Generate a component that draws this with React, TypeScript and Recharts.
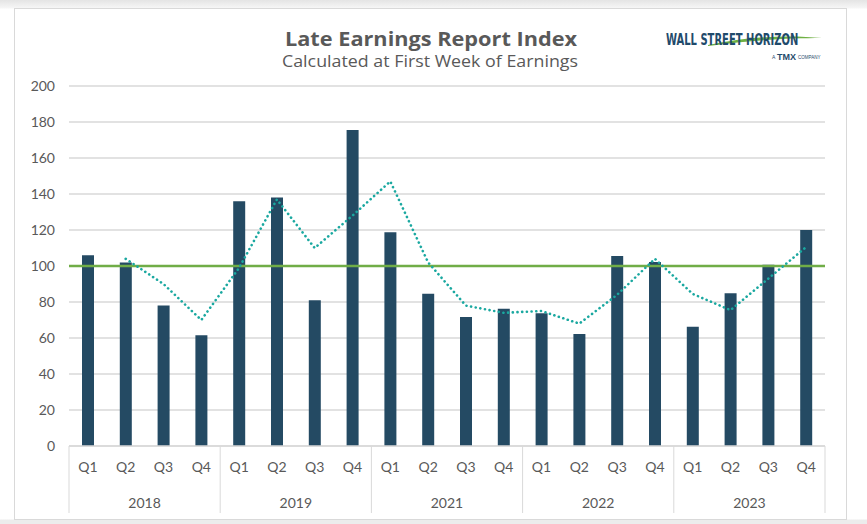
import React from "react";
import {
  Bar,
  CartesianGrid,
  ComposedChart,
  Line,
  ReferenceLine,
  XAxis,
  YAxis,
} from "recharts";

const YEARS = ["2018", "2019", "2021", "2022", "2023"];
const QUARTERS = ["Q1", "Q2", "Q3", "Q4"];

// Late Earnings Report Index, one value per quarter
const INDEX_VALUES = [
  106, 102, 78, 61.5,
  136, 138, 81, 175.5,
  118.7, 84.6, 71.7, 76.3,
  73.7, 62.2, 105.6, 102.2,
  66.3, 84.8, 100.7, 120,
];

// dotted trend line (2-period moving average as drawn in the picture)
const TREND_VALUES = [
  null, 104, 90, 70,
  99, 137, 110, 128,
  147, 102, 78, 74,
  75, 68, 84, 104,
  84.5, 75.5, 93, 110.5,
];

const Y_TICKS = [0, 20, 40, 60, 80, 100, 120, 140, 160, 180, 200];
const BASELINE = 100;

const rows = YEARS.flatMap((year, yi) =>
  QUARTERS.map((q, qi) => {
    const i = yi * 4 + qi;
    return { key: `${year} ${q}`, year, q, value: INDEX_VALUES[i], trend: TREND_VALUES[i] };
  })
);

const FONT = "Lato, 'Open Sans', sans-serif";
const TITLE_FONT = "'Open Sans', Lato, sans-serif";
const TXT = "#595959";
const GRID = "#d9d9d9";

function QuarterYearTick(props: any) {
  const { x, y, payload } = props;
  const i: number = payload.index;
  const half: number = payload.offset || 18.9;
  const row = rows[i];
  const left = x - half;
  return (
    <g>
      <text x={x} y={y + 26} textAnchor="middle" fill={TXT} fontSize={14} fontFamily={FONT}>
        {row.q}
      </text>
      {i % 4 === 0 && (
        <>
          <line x1={left} x2={left} y1={y} y2={y + 67} stroke={GRID} />
          <text x={left + half * 4} y={y + 62} textAnchor="middle" fill={TXT} fontSize={14} fontFamily={FONT}>
            {row.year}
          </text>
        </>
      )}
      {i === rows.length - 1 && <line x1={x + half} x2={x + half} y1={y} y2={y + 67} stroke={GRID} />}
    </g>
  );
}

function Titles() {
  return (
    <svg width={867} height={90} style={{ position: "absolute", left: 0, top: 0 }}>
      <text
        x={431}
        y={46}
        textAnchor="middle"
        fill={TXT}
        fontSize={19.5}
        fontWeight="bold"
        fontFamily={TITLE_FONT}
        textLength={292}
        lengthAdjust="spacingAndGlyphs"
      >
        Late Earnings Report Index
      </text>
      <text
        x={430}
        y={67}
        textAnchor="middle"
        fill={TXT}
        fontSize={15.5}
        fontFamily={TITLE_FONT}
        textLength={296}
        lengthAdjust="spacingAndGlyphs"
      >
        Calculated at First Week of Earnings
      </text>
    </svg>
  );
}

function Logo() {
  return (
    <svg width={190} height={50} style={{ position: "absolute", left: 660, top: 22 }}>
      <path d="M48 23 C 90 14, 130 13, 162 16 C 130 16, 95 18, 48 24 Z" fill="#6fb043" />
      <text
        transform="translate(6,23) scale(0.74,1)"
        fill="#1f4a6b"
        fontSize={15}
        fontWeight="bold"
        fontFamily="'DejaVu Sans Condensed', sans-serif"
      >
        WALL STREET HORIZON
      </text>
      <text x={112} y={37} fill="#1f4a6b" fontSize={5} fontFamily="sans-serif">A</text>
      <text x={117} y={38} fill="#1f4a6b" fontSize={9} fontWeight="bold" fontFamily="sans-serif">
        TMX
      </text>
      <text x={138} y={37} fill="#1f4a6b" fontSize={4.5} fontFamily="sans-serif">COMPANY</text>
    </svg>
  );
}

export default function App() {
  return (
    <div
      style={{
        position: "absolute",
        left: 0,
        top: 0,
        width: 867,
        height: 524,
        background:
          "linear-gradient(to bottom, #e4e4e4 0px, #f6f6f6 8px, #ffffff 9px, #ffffff 519px, #ececec 520px)",
        fontFamily: FONT,
      }}
    >
      <div
        style={{
          position: "absolute",
          left: 14,
          top: 8,
          width: 831,
          height: 510,
          border: `1px solid ${GRID}`,
          background: "#fff",
        }}
      />
      <Titles />
      <Logo />
      <div style={{ position: "absolute", left: 0, top: 0 }}>
        <ComposedChart width={867} height={524} data={rows} margin={{ top: 86, right: 42, left: 0, bottom: 4 }}>
          <CartesianGrid vertical={false} stroke={GRID} strokeWidth={1.3} />
          <YAxis
            domain={[0, 200]}
            ticks={Y_TICKS}
            width={69}
            axisLine={false}
            tickLine={false}
            tickSize={0}
            tickMargin={14}
            tick={{ fill: TXT, fontSize: 14, fontFamily: FONT }}
          />
          <XAxis
            dataKey="key"
            interval={0}
            height={74}
            tickSize={0}
            tickMargin={0}
            tickLine={false}
            axisLine={{ stroke: GRID, strokeWidth: 1.3 }}
            tick={<QuarterYearTick />}
          />
          <Bar dataKey="value" fill="#244a63" barSize={12} isAnimationActive={false} />
          <ReferenceLine y={BASELINE} stroke="#70ad47" strokeWidth={2.6} />
          <Line
            dataKey="trend"
            stroke="#1aa8a0"
            strokeWidth={2.6}
            strokeDasharray="0.1 4.6"
            strokeLinecap="round"
            dot={false}
            activeDot={false}
            connectNulls
            isAnimationActive={false}
          />
        </ComposedChart>
      </div>
    </div>
  );
}
